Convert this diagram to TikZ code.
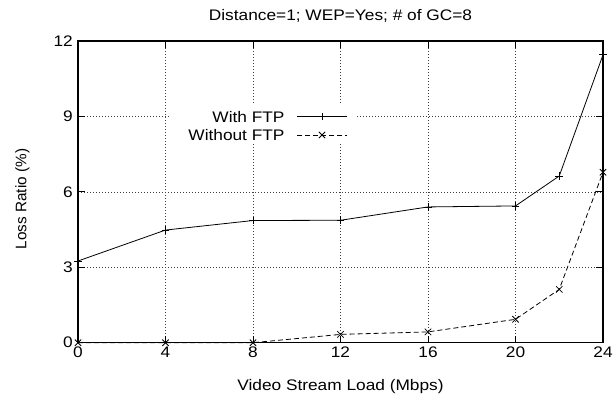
\documentclass[tikz,border=0pt]{standalone}
\usepackage{fontspec}
\setmainfont{Liberation Sans}[FakeStretch=1.13]
\newfontfamily\vfont{Liberation Sans}
\begin{document}
\begin{tikzpicture}[x=1pt,y=1pt,
  lab/.style={inner sep=0pt,font=\fontsize{15.3}{18}\selectfont},
  vlab/.style={inner sep=0pt,font=\vfont\fontsize{15.3}{18}\selectfont},
  frame/.style={line width=1.1pt},
  gridline/.style={line width=0.7pt,black!75,dash pattern=on 0.8pt off 2.2pt},
  tickline/.style={line width=1pt},
  withline/.style={line width=0.8pt},
  woline/.style={line width=0.8pt,dash pattern=on 5pt off 3pt},
  plusmark/.pic={\draw[line width=0.8pt] (-3.8pt,0)--(3.8pt,0) (0,-3.8pt)--(0,3.8pt);},
  crossmark/.pic={\draw[line width=0.8pt] (-3.2pt,-3.2pt)--(3.2pt,3.2pt) (-3.2pt,3.2pt)--(3.2pt,-3.2pt);}
]
\useasboundingbox[fill=white] (0,0) rectangle (614,398);
\node[lab,anchor=base] (title) at (340.5,377) {Distance=1; WEP=Yes; \# of GC=8};
\node[lab,anchor=base] (xlabel) at (340.5,7) {Video Stream Load (Mbps)};
\node[vlab,rotate=90,anchor=base] (ylabel) at (26.5,199) {Loss Ratio (\%)};
\begin{scope}[shift={(78,55.3)},x=21.875pt,y=25.14pt]
  % grid
  \foreach \gx in {4,8,12,16,20} \draw[gridline] (\gx,0) -- (\gx,12);
  \foreach \gy in {3,6,9} \draw[gridline] (0,\gy) -- (24,\gy);
  % legend background
  \fill[white] (4.2,7.9) rectangle (12.7,9.5);
  % ticks
  \foreach \tx in {0,4,8,12,16,20,24} {
    \draw[tickline] (\tx,0) -- ++(0,7pt);
    \draw[tickline] (\tx,12) -- ++(0,-7pt);
    \node[lab] (xt\tx) at (\tx,0) [yshift=-9.5pt] {\tx};
  }
  \foreach \ty in {0,3,6,9,12} {
    \draw[tickline] (0,\ty) -- ++(7pt,0);
    \draw[tickline] (24,\ty) -- ++(-7pt,0);
    \node[lab,anchor=east] (yt\ty) at (0,\ty) [xshift=-5pt] {\ty};
  }
  \draw[frame] (0,0) rectangle (24,12);
  % data: with FTP
  \coordinate (a0) at (0,3.25);
  \coordinate (a1) at (4,4.48);
  \coordinate (a2) at (8,4.86);
  \coordinate (a3) at (12,4.87);
  \coordinate (a4) at (16,5.40);
  \coordinate (a5) at (20,5.44);
  \coordinate (a6) at (22,6.63);
  \coordinate (a7) at (24,11.45);
  \draw[withline] (a0)--(a1)--(a2)--(a3)--(a4)--(a5)--(a6)--(a7);
  \foreach \p in {a0,a1,a2,a3,a4,a5,a6,a7} \pic at (\p) {plusmark};
  % data: without FTP
  \coordinate (b0) at (0,0);
  \coordinate (b1) at (4,0);
  \coordinate (b2) at (8,0);
  \coordinate (b3) at (12,0.33);
  \coordinate (b4) at (16,0.43);
  \coordinate (b5) at (20,0.93);
  \coordinate (b6) at (22,2.12);
  \coordinate (b7) at (24,6.78);
  \draw[woline] (b0)--(b1)--(b2)--(b3)--(b4)--(b5)--(b6)--(b7);
  \foreach \p in {b0,b1,b2,b3,b4,b5,b6,b7} \pic at (\p) {crossmark};
\end{scope}
% legend
\node[lab,anchor=east] (leg1) at (284.7,281) {With FTP};
\node[lab,anchor=east] (leg2) at (284.7,263) {Without FTP};
\coordinate (l1a) at (297,281.3);
\coordinate (l1b) at (347,281.3);
\coordinate (l1m) at (322,281.3);
\coordinate (l2a) at (297,263);
\coordinate (l2b) at (347,263);
\coordinate (l2m) at (322,263);
\draw[withline] (l1a) -- (l1b);
\pic at (l1m) {plusmark};
\draw[woline] (l2a) -- (l2b);
\pic at (l2m) {crossmark};
\end{tikzpicture}
\end{document}
